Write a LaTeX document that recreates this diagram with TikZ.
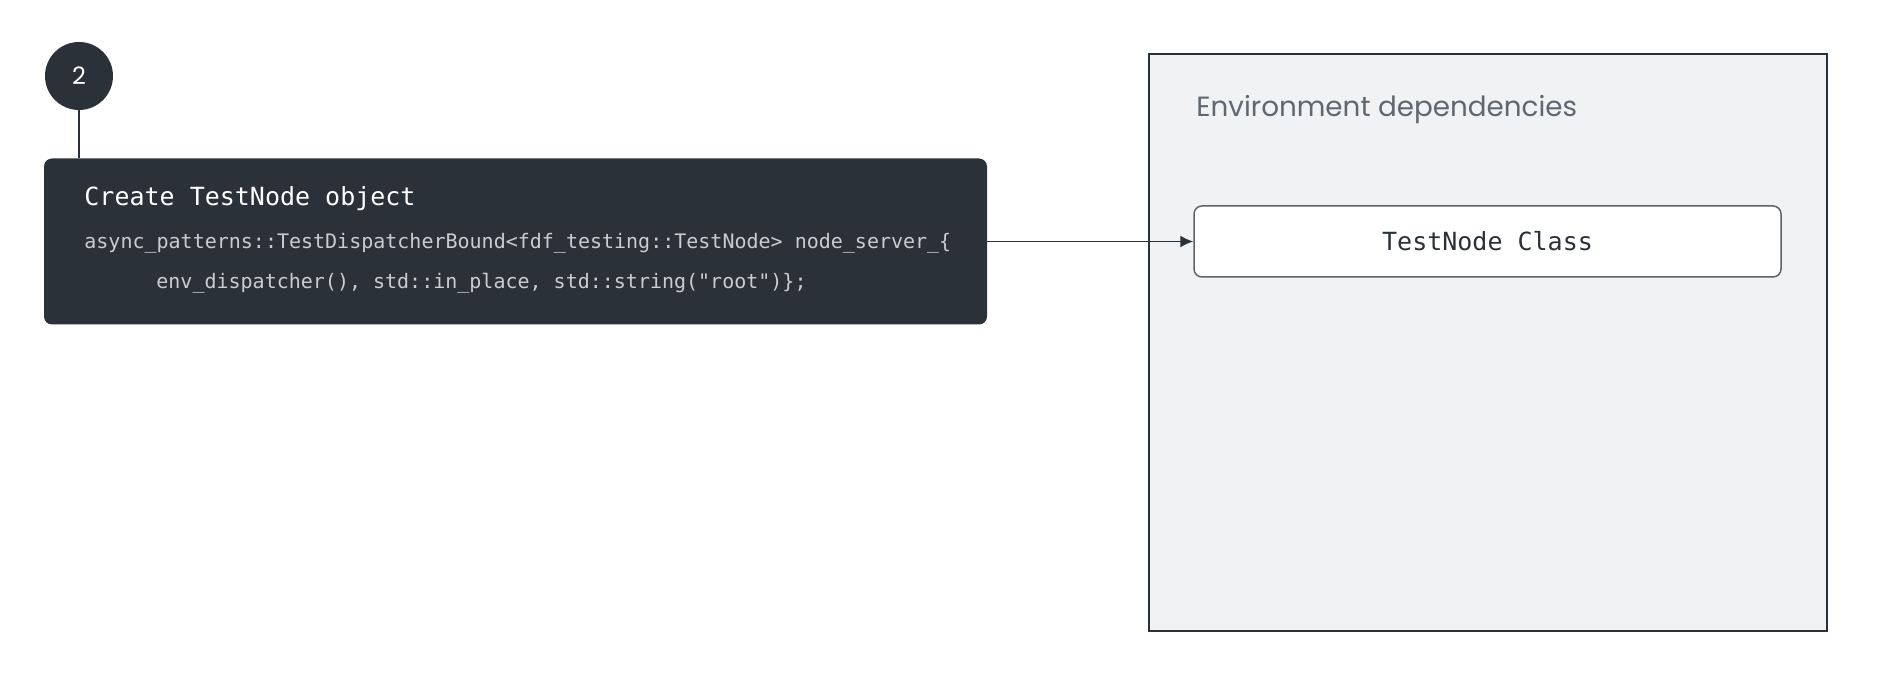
\documentclass[tikz,border=0pt]{standalone}
\usepackage{fontspec}
\usetikzlibrary{arrows.meta}
\newfontfamily\codefont{DejaVu Sans Mono}
\newfontfamily\labelfont{Poppins}
\definecolor{inkdark}{HTML}{2A3138}
\definecolor{panelgray}{HTML}{F1F2F4}
\definecolor{titlegray}{HTML}{5F6770}
\definecolor{codegray}{HTML}{C9CDD2}
\definecolor{edgegray}{HTML}{5F6368}
\tikzset{
  codeline/.style={anchor=west,inner sep=0pt,text=codegray,font=\codefont\fontsize{10}{12}\selectfont},
  boxtitle/.style={anchor=west,inner sep=0pt,text=white,font=\codefont\fontsize{12.5}{15}\selectfont}
}
\begin{document}
\begin{tikzpicture}[x=0.5pt,y=-0.5pt]
  \useasboundingbox (0,0) rectangle (1882,688);

  % environment panel
  \node[draw=inkdark,line width=1pt,fill=panelgray,minimum width=339pt,minimum height=288.5pt] (env) at (1488,342.5) {};
  \node[anchor=west,inner sep=0pt,text=titlegray,font=\labelfont\fontsize{13.9}{16}\selectfont] (envtitle) at (1196,110) {Environment dependencies};
  \node[draw=edgegray,line width=0.75pt,fill=white,rounded corners=4pt,minimum width=293.5pt,minimum height=35.5pt,font=\codefont\fontsize{12.5}{15}\selectfont,text=inkdark] (testnode) at (1487.5,241.5) {TestNode Class};

  % step badge and code box
  \node[circle,fill=inkdark,minimum size=34pt,inner sep=0pt,text=white,font=\labelfont\fontsize{12}{14}\selectfont] (badge) at (79,76) {2};
  \node[fill=inkdark,rounded corners=4pt,minimum width=471.5pt,minimum height=83pt] (step) at (515.5,241.5) {};
  \node[boxtitle] (steptitle) at (84,198.5) {Create TestNode object};
  \node[codeline] (code1) at (84,243.5) {async\_patterns::TestDispatcherBound<fdf\_testing::TestNode> node\_server\_\{};
  \node[codeline] (code2) at (156,283.5) {env\_dispatcher(), std::in\_place, std::string("root")\};};

  \draw[inkdark,line width=1pt] (badge.south) -- (badge.south |- step.north);
  \draw[inkdark,line width=0.75pt,-{Latex[length=6.5pt,width=6pt]}] (step.east) -- (testnode.west);

\end{tikzpicture}
\end{document}
